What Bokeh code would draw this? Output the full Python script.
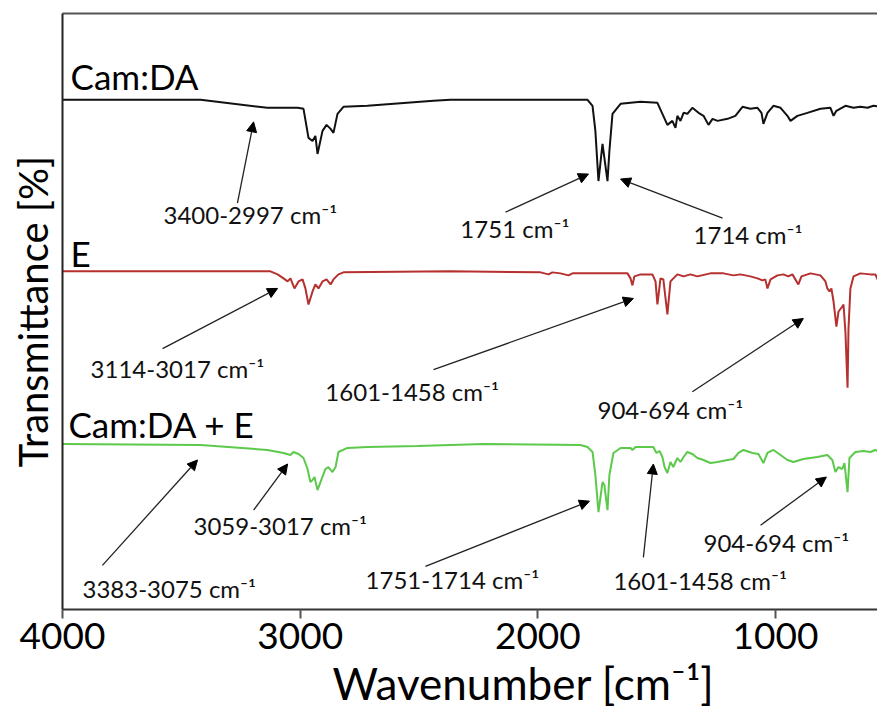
from bokeh.plotting import figure
from bokeh.models import Range1d, FixedTicker, LinearAxis, Label, Arrow, NormalHead, Title
from bokeh.embed import file_html
from bokeh.resources import INLINE

# ---- data (wavenumber [cm-1], relative transmittance [%]) ----
camda_wn = [4000, 3419, 3138, 3011, 2986, 2965, 2948, 2936, 2927, 2906, 2889, 2872, 2860,
            2843, 2818, 2717, 2439, 2368, 2073, 1791, 1770, 1758, 1745, 1728, 1707, 1699,
            1686, 1652, 1568, 1497, 1476, 1455, 1434, 1421, 1413, 1400, 1387, 1371, 1350,
            1324, 1303, 1282, 1265, 1244, 1202, 1169, 1139, 1106, 1076, 1059, 1051, 1034,
            1009, 979, 950, 937, 908, 866, 811, 769, 756, 744, 706, 672, 643, 613, 588,
            559, 550, 538]
camda_t = [100, 100, 93.6, 93.6, 92.8, 69.6, 67.2, 71.2, 56.8, 75.2, 80, 76.8, 73.6,
           88.8, 94.4, 95.2, 99.2, 100, 100, 100, 95.2, 75.2, 35.2, 64.8, 35.2, 59.2,
           88.8, 96.8, 98.4, 97.6, 88.8, 80, 83.2, 77.6, 87.2, 83.2, 89.6, 88.8, 93.6,
           89.6, 87.2, 80, 84.8, 83.2, 84.8, 87.2, 94.4, 92.8, 93.6, 89.6, 80.8, 89.6,
           95.2, 93.6, 87.2, 83.2, 87.2, 89.6, 92.8, 93.6, 87.2, 91.2, 95.2, 93.6, 94.4,
           93.6, 95.2, 94.4, 89.6, 95.2]

e_wn = [4000, 3125, 3095, 3070, 3053, 3041, 3024, 3007, 2990, 2978, 2965, 2948, 2936,
        2923, 2906, 2889, 2872, 2860, 2839, 2818, 2368, 1989, 1955, 1939, 1905, 1871,
        1854, 1724, 1623, 1610, 1602, 1594, 1568, 1518, 1505, 1497, 1484, 1472, 1455,
        1442, 1413, 1387, 1358, 1329, 1274, 1219, 1177, 1148, 1106, 1076, 1055, 1043,
        1034, 1021, 992, 967, 946, 929, 904, 891, 853, 811, 790, 782, 773, 765, 756,
        744, 735, 719, 714, 706, 697, 693, 685, 672, 643, 601, 580, 567, 554, 546, 538]
e_t = [100, 100, 97.6, 94.4, 92, 94.4, 86.4, 92, 93.6, 86.4, 73.6, 84, 89.6,
       86.4, 92, 93.6, 89.6, 93.6, 97.6, 99.2, 100, 99.2, 97.6, 99.2, 98.4, 96.8,
       98.4, 98.4, 98.4, 94.4, 88.8, 96, 97.6, 97.6, 92, 73.6, 94.4, 93.6, 65.6,
       92, 97.6, 96, 97.6, 96, 98.4, 98.4, 96.8, 97.6, 96, 94.4, 92.8, 93.6,
       86.4, 93.6, 96.8, 97.6, 96, 97.6, 89.6, 96, 98.4, 96.8, 92, 86.4, 84, 86.4, 76,
       56, 68, 72, 73.6, 52, 7.2, 54.4, 86.4, 96, 98.4, 97.6, 97.6, 92, 73.6, 92, 97.6]

mix_wn = [4000, 3419, 3138, 3070, 3041, 3028, 3007, 2986, 2969, 2957, 2948, 2940, 2927,
          2910, 2894, 2881, 2864, 2851, 2839, 2801, 2717, 2506, 2229, 1821, 1791, 1770,
          1758, 1745, 1728, 1720, 1707, 1699, 1682, 1652, 1610, 1602, 1589, 1514, 1501,
          1488, 1476, 1467, 1455, 1442, 1430, 1413, 1400, 1387, 1371, 1350, 1329, 1303,
          1274, 1244, 1202, 1177, 1156, 1135, 1097, 1072, 1051, 1034, 1009, 979, 950,
          925, 883, 824, 782, 761, 748, 735, 719, 710, 697, 689, 664, 630, 601, 580,
          559, 546, 538]
mix_t = [100, 99.2, 95.2, 92.8, 91.2, 93.6, 92, 88.8, 80, 69.6, 71.2, 73.6, 63.2,
         72, 80, 81.6, 77.6, 81.6, 93.6, 96.8, 97.6, 98.4, 100, 99.2, 97.6, 93.6,
         75.2, 45.6, 69.6, 67.2, 47.2, 75.2, 92.8, 96.8, 96.8, 95.2, 97.6, 97.6, 92.8,
         94.4, 89.6, 81.6, 76.8, 85.6, 81.6, 88.8, 85.6, 89.6, 93.6, 92, 88.8, 87.2,
         84.8, 85.6, 87.2, 88, 92.8, 95.2, 92.8, 92, 84.8, 92.8, 95.2, 91.2, 87.2,
         85.6, 88, 89.6, 91.2, 87.2, 77.6, 81.6, 80, 84.8, 61.6, 88.8, 93.6, 94.4, 93.6, 95.2,
         92.8, 85.6, 94.4]

series_names = ["Cam:DA", "E", "Cam:DA + E"]
x_ticks = [4000, 3000, 2000, 1000]
x_title = "Wavenumber [cm\u207b\u00b9]"
y_title = "Transmittance [%]"

# vertical stacking offsets of the three spectra
offsets = [306.4, 169.6, 32.0]
colors = ["#111111", "#b5302e", "#5cc94b"]

FONT = "Lato"

p = figure(width=877, height=712, output_backend="svg", toolbar_location=None,
           x_range=Range1d(4000, 571), y_range=Range1d(0, 475.2),
           min_border_left=62, min_border_right=0, min_border_top=13, min_border_bottom=0)
p.grid.visible = False
p.outline_line_color = None
p.background_fill_color = "white"
p.border_fill_color = "white"

for wn, t, off, c in zip([camda_wn, e_wn, mix_wn], [camda_t, e_t, mix_t], offsets, colors):
    p.line(wn, [v + off for v in t], line_color=c, line_width=2)

# x axis
xa = p.xaxis[0]
xa.ticker = FixedTicker(ticks=x_ticks)
xa.major_tick_out = 9
xa.major_tick_in = 0
xa.minor_tick_out = 0
xa.minor_tick_in = 0
xa.axis_line_width = 2
xa.axis_line_color = "#333333"
xa.major_tick_line_width = 2
xa.major_tick_line_color = "#555555"
xa.major_label_text_font = FONT
xa.major_label_text_font_size = "37px"
xa.major_label_text_color = "black"
xa.major_label_standoff = 4

# x-axis title, placed under the centre of the full (cropped) original plot
p.add_layout(Title(text=x_title, text_font=FONT, text_font_size="44px",
                   text_font_style="normal", text_color="black",
                   align="left", offset=270, standoff=7), "below")

# y axis (no ticks)
ya = p.yaxis[0]
ya.ticker = FixedTicker(ticks=[])
ya.major_tick_out = 0
ya.major_tick_in = 0
ya.minor_tick_out = 0
ya.minor_tick_in = 0
ya.major_label_text_font_size = "0px"
ya.axis_line_width = 2
ya.axis_line_color = "#222222"
ya.axis_label = y_title
ya.axis_label_text_font = FONT
ya.axis_label_text_font_size = "40px"
ya.axis_label_text_font_style = "normal"
ya.axis_label_text_color = "black"
ya.axis_label_standoff = 6

# top border line
top = LinearAxis(ticker=FixedTicker(ticks=[]), major_label_text_font_size="0px",
                 major_tick_out=0, major_tick_in=0, minor_tick_out=0, minor_tick_in=0,
                 axis_line_color="#555555", axis_line_width=2)
p.add_layout(top, "above")

# series names
name_pos = [(3966, 425.6), (3966, 284.0), (3975, 148.0)]
for name, (x, y) in zip(series_names, name_pos):
    p.add_layout(Label(x=x, y=y, text=name, text_font=FONT, text_font_size="35px",
                       text_baseline="middle", text_align="left", text_color="black"))

# band annotations: text, text position, arrow start, arrow end
annotations = [
    ("3400-2997  cm\u207b\u00b9", (3575, 315.2), (3264, 324.0), (3196, 388.8)),
    ("1751 cm\u207b\u00b9", (2326, 304.0), (2136, 316.8), (1787, 347.2)),
    ("1714 cm\u207b\u00b9", (1345, 299.2), (1223, 312.0), (1652, 343.2)),
    ("3114-3017 cm\u207b\u00b9", (3882, 192.0), (3579, 208.0), (3095, 256.0)),
    ("1601-1458 cm\u207b\u00b9", (2894, 173.6), (2439, 191.2), (1598, 248.0)),
    ("904-694 cm\u207b\u00b9", (1749, 159.2), (1350, 173.6), (883, 232.0)),
    ("3383-3075 cm\u207b\u00b9", (3916, 16.8), (3832, 35.2), (3432, 119.2)),
    ("3059-3017 cm\u207b\u00b9", (3449, 67.2), (3196, 79.2), (3053, 116.0)),
    ("1751-1714 cm\u207b\u00b9", (2725, 24.0), (2473, 34.4), (1783, 86.4)),
    ("1601-1458 cm\u207b\u00b9", (1682, 23.2), (1556, 41.6), (1514, 116.0)),
    ("904-694 cm\u207b\u00b9", (1303, 53.6), (1063, 67.2), (786, 105.6)),
]
for txt, (tx, ty), (x0, y0), (x1, y1) in annotations:
    p.add_layout(Label(x=tx, y=ty, text=txt, text_font=FONT, text_font_size="24px",
                       text_baseline="middle", text_align="left", text_color="#111111"))
    p.add_layout(Arrow(x_start=x0, y_start=y0, x_end=x1, y_end=y1,
                       line_color="#222222", line_width=1.3,
                       end=NormalHead(size=10, fill_color="black", line_color="black")))

open("out.html", "w").write(file_html(p, INLINE))
